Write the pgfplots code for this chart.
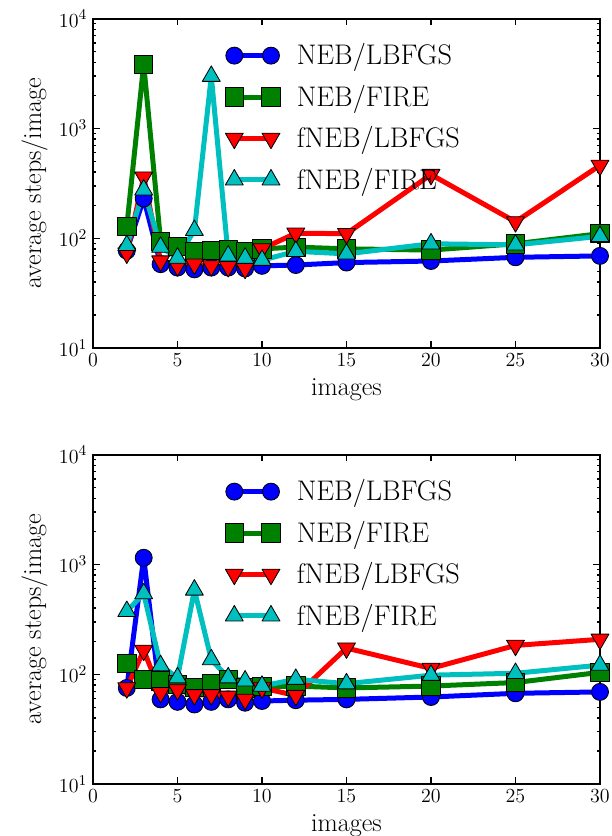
\documentclass[border=0pt]{standalone}
\usepackage{pgfplots}
\pgfplotsset{compat=1.18}
\usepackage{pgfplotstable}

\definecolor{mblue}{rgb}{0,0,1}
\definecolor{mgreen}{rgb}{0,0.5,0}
\definecolor{mred}{rgb}{1,0,0}
\definecolor{mcyan}{rgb}{0,0.75,0.75}

% x, NEB/LBFGS, NEB/FIRE, fNEB/LBFGS, fNEB/FIRE
\pgfplotstableread{
x   nl    nf    fl    ff
2   77    128   73    86
3   230   3830  360   276
4   58    94    62    83
5   54    84    56    66
6   52    76    58    118
7   54    77    56    2990
8   54    78    55    69
9   53    76    53    66
10  56    80    80    63
12  57    83    111   76
15  60    80    110   72
20  62    78    380   89
25  67    89    141   87
30  69    110   461   104
}\toptable

\pgfplotstableread{
x   nl    nf    fl    ff
2   75    126   75    374
3   1150  90    165   542
4   59    87    68    120
5   56    81    72    93
6   53    76    65    586
7   56    82    65    136
8   59    90    63    93
9   55    75    59    87
10  57    77    75    78
12  58    78    64    90
15  59    75    173   82
20  62    78    113   98
25  67    84    183   102
30  69    104   208   121
}\bottable

\pgfplotsset{
  panel/.style={
    scale only axis,
    width=304.2pt, height=197.6pt,
    anchor=south west,
    xmin=0, xmax=30, ymin=10, ymax=10000,
    xtick={0,5,10,15,20,25,30},
    minor x tick num=0,
    axis line style={line width=1.2pt},
    major tick length=4pt, minor tick length=2pt,
    every tick/.style={black, line width=0.8pt},
    tick label style={font=\fontsize{13}{15}\selectfont},
    label style={font=\fontsize{15.7}{18}\selectfont},
    xlabel={images},
    ylabel={average steps/image},
    legend cell align=left,
    legend style={draw=none, fill=none, at={(0.26,0.945)}, anchor=north west,
      font=\fontsize{17}{19}\selectfont, row sep=2.6pt, inner sep=0pt,
      nodes={inner sep=4pt},
      /tikz/every odd column/.style={column sep=6pt}},
    legend image code/.code={\draw[##1] plot coordinates {(0pt,0pt) (22pt,0pt)};},
  },
  nl/.style={mblue, line width=3pt, line join=round, mark=*, mark size=5.1pt,
    mark options={fill=mblue, draw=black, line width=0.5pt}},
  nf/.style={mgreen, line width=3pt, line join=round, mark=square*, mark size=5.5pt,
    mark options={fill=mgreen, draw=black, line width=0.5pt}},
  fl/.style={mred, line width=3pt, line join=round, mark=triangle*, mark size=6.2pt,
    mark options={fill=mred, draw=black, line width=0.5pt, rotate=180}},
  ff/.style={mcyan, line width=3pt, line join=round, mark=triangle*, mark size=6.2pt,
    mark options={fill=mcyan, draw=black, line width=0.5pt}},
}

\begin{document}
\begin{tikzpicture}
  \begin{semilogyaxis}[panel, at={(55.8pt,292.8pt)}]
    \addplot[nl] table[x=x, y=nl] {\toptable};
    \addlegendentry{NEB/LBFGS}
    \addplot[nf] table[x=x, y=nf] {\toptable};
    \addlegendentry{NEB/FIRE}
    \addplot[fl] table[x=x, y=fl] {\toptable};
    \addlegendentry{fNEB/LBFGS}
    \addplot[ff] table[x=x, y=ff] {\toptable};
    \addlegendentry{fNEB/FIRE}
  \end{semilogyaxis}
  \begin{semilogyaxis}[panel, at={(55.8pt,31.2pt)}]
    \addplot[nl] table[x=x, y=nl] {\bottable};
    \addlegendentry{NEB/LBFGS}
    \addplot[nf] table[x=x, y=nf] {\bottable};
    \addlegendentry{NEB/FIRE}
    \addplot[fl] table[x=x, y=fl] {\bottable};
    \addlegendentry{fNEB/LBFGS}
    \addplot[ff] table[x=x, y=ff] {\bottable};
    \addlegendentry{fNEB/FIRE}
  \end{semilogyaxis}
  \pgfresetboundingbox
  \useasboundingbox (0,0) rectangle (367.2pt,501.6pt);
\end{tikzpicture}
\end{document}
